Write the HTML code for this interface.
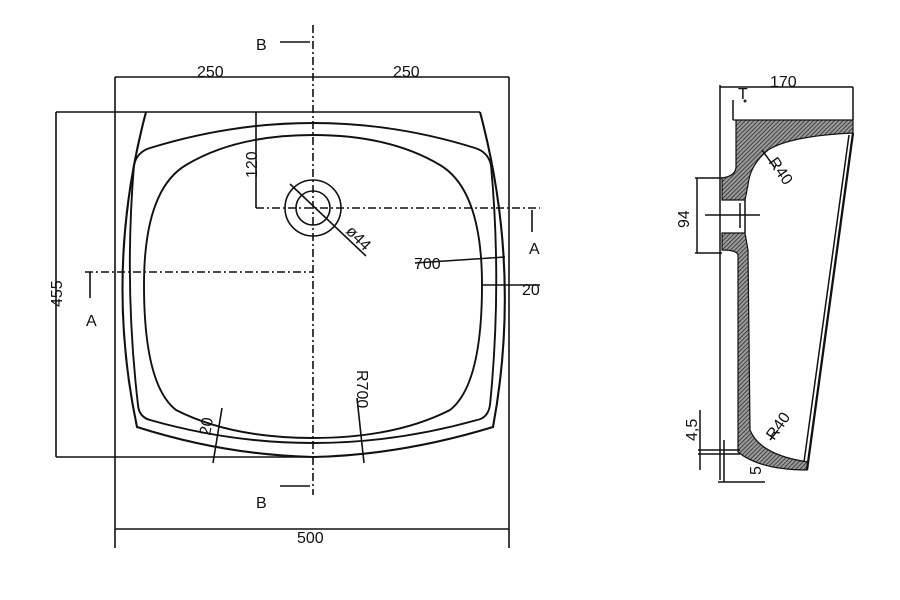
<!DOCTYPE html>
<html><head><meta charset="utf-8"><style>
html,body{margin:0;padding:0;background:#fff;}
svg{display:block;}
text{font-family:"Liberation Sans",sans-serif;fill:#111;font-size:16px;}
</style></head><body>
<svg width="900" height="600" viewBox="0 0 900 600" xmlns="http://www.w3.org/2000/svg">
<defs>
<pattern id="h" width="3" height="3" patternUnits="userSpaceOnUse" patternTransform="rotate(45)">
<rect width="3" height="3" fill="#999"/><line x1="0" y1="0" x2="0" y2="3" stroke="#222" stroke-width="1.4"/>
</pattern>
</defs>
<g stroke="#111" fill="none" stroke-width="1.6">
<line x1="115" y1="77" x2="115" y2="548"/>
<line x1="509" y1="77" x2="509" y2="548"/>
<line x1="115" y1="77" x2="509" y2="77"/>
<line x1="115" y1="529" x2="509" y2="529"/>
<line x1="56" y1="112" x2="480" y2="112"/>
<line x1="56" y1="112" x2="56" y2="457"/>
<line x1="56" y1="457" x2="313" y2="457"/>
<path d="M146,112 Q104,270 137,427 Q225,455 313,457 Q401,455 493,427 Q522,270 480,112" stroke-width="2.1"/>
<path d="M150,148 Q231,123 313,123 Q395,123 475,148 Q488,152 491,165 Q502,285 490,405 Q488,418 477,420 Q395,443 313,443 Q231,443 150,420 Q139,417 138,405 Q124,285 134,165 Q137,152 150,148 Z" stroke-width="1.9"/>
<path d="M313,135 Q390,135 440,165 Q482,190 482,285 Q482,385 450,410 Q395,438 313,438 Q231,438 176,410 Q144,385 144,285 Q144,190 186,165 Q236,135 313,135 Z" stroke-width="1.9"/>
<line x1="313" y1="25" x2="313" y2="495" stroke-dasharray="8,3,2,3"/>
<line x1="256" y1="208" x2="540" y2="208" stroke-dasharray="8,3,2,3"/>
<line x1="85" y1="272" x2="313" y2="272" stroke-dasharray="8,3,2,3"/>
<line x1="256" y1="112" x2="256" y2="208"/>
<circle cx="313" cy="208" r="28"/>
<circle cx="313" cy="208" r="17"/>
<line x1="290" y1="184" x2="366" y2="256"/>
<line x1="280" y1="42" x2="310" y2="42"/>
<line x1="280" y1="486" x2="310" y2="486"/>
<line x1="532" y1="210" x2="532" y2="232"/>
<line x1="90" y1="272" x2="90" y2="298"/>
<line x1="415" y1="263" x2="505" y2="257"/>
<line x1="482" y1="285" x2="540" y2="285"/>
<line x1="357" y1="398" x2="364" y2="463"/>
<line x1="222" y1="408" x2="213" y2="463"/>
</g>
<g>
<text x="197" y="77">250</text>
<text x="393" y="77">250</text>
<text x="297" y="543">500</text>
<text x="256" y="50" font-size="17">B</text>
<text x="256" y="508" font-size="17">B</text>
<text x="529" y="254">A</text>
<text x="86" y="326">A</text>
<text x="414" y="269">700</text>
<text x="522" y="295">20</text>
<text transform="translate(62,307) rotate(-90)">455</text>
<text transform="translate(257,178) rotate(-90)">120</text>
<text transform="translate(345,232) rotate(45)">ø44</text>
<text transform="translate(357,370) rotate(90)">R700</text>
<text transform="translate(210,436) rotate(-80)">20</text>
</g>
<g stroke="#111" fill="none" stroke-width="1.5">
<line x1="720" y1="85" x2="720" y2="480"/>
<line x1="720" y1="87" x2="853" y2="87"/>
<line x1="853" y1="87" x2="853" y2="120"/>
<path d="M733,100 L733,120"/>
<path d="M733,120 L853,120 L853,133 Q790,136 768,150 Q750,165 748,185 L745,200 L722,200 L722,178 Q737,176 736,165 L736,120 Z" fill="url(#h)" stroke-width="1.2"/>
<path d="M722,233 L745,233 L748,250 L750,430 Q760,455 808,462 L807,470 Q760,470 738,452 L738,255 Q737,250 722,250 Z" fill="url(#h)" stroke-width="1.2"/>
<line x1="745" y1="200" x2="745" y2="233"/>
<line x1="853" y1="133" x2="807" y2="470" stroke-width="2.3"/>
<line x1="849" y1="135" x2="804" y2="462"/>
<line x1="695" y1="178" x2="722" y2="178"/>
<line x1="695" y1="253" x2="722" y2="253"/>
<line x1="697" y1="178" x2="697" y2="253"/>
<line x1="705" y1="215" x2="760" y2="215"/>
<line x1="740" y1="203" x2="740" y2="228"/>
<line x1="698" y1="450" x2="740" y2="450"/>
<line x1="698" y1="454" x2="740" y2="454"/>
<line x1="700" y1="410" x2="700" y2="470"/>
<line x1="724" y1="440" x2="724" y2="482"/>
<line x1="718" y1="482" x2="765" y2="482"/>
<line x1="762" y1="150" x2="775" y2="168"/>
<line x1="770" y1="440" x2="778" y2="430"/>
</g>
<text x="770" y="87">170</text>
<text x="738" y="99" font-size="10">T</text>
<circle cx="745" cy="101" r="1.5" fill="#222"/>
<text transform="translate(689,228) rotate(-90)">94</text>
<text transform="translate(697,441) rotate(-90)" font-size="15">4,5</text>
<text transform="translate(768,162) rotate(55)" font-size="15">R40</text>
<text transform="translate(774,441) rotate(-55)" font-size="15">R40</text>
<text transform="translate(761,475) rotate(-90)" font-size="13">5</text>
</svg>
</body></html>
